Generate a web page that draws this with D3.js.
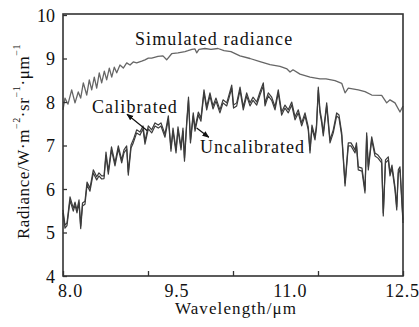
<!DOCTYPE html>
<html><head><meta charset="utf-8">
<script src="https://cdn.jsdelivr.net/npm/d3@7"></script>
<style>
html,body{margin:0;padding:0;background:#fff;}
svg{display:block;}
svg text{font-family:'Liberation Serif','DejaVu Serif',serif !important;}
</style></head>
<body><svg id="c" width="419" height="327"></svg>
<script>
const simWl = [8.000,8.026,8.066,8.115,8.159,8.202,8.234,8.269,8.314,8.348,8.380,8.414,8.446,8.480,8.512,8.547,8.578,8.613,8.645,8.679,8.711,8.754,8.798,8.843,8.887,8.930,8.975,9.042,9.085,9.129,9.174,9.257,9.323,9.372,9.438,9.522,9.615,9.654,9.707,9.747,9.769,9.800,9.879,9.959,10.051,10.131,10.223,10.342,10.475,10.607,10.740,10.872,10.965,11.005,11.044,11.137,11.270,11.402,11.481,11.600,11.689,11.733,11.776,11.908,11.997,12.086,12.218,12.284,12.328,12.394,12.460,12.500];
const simulated = [7.82,8.09,7.95,8.28,7.98,8.23,8.09,8.44,8.16,8.51,8.28,8.57,8.32,8.67,8.44,8.71,8.51,8.78,8.57,8.80,8.67,8.85,8.78,8.90,8.85,8.92,8.90,8.94,8.97,9.01,9.01,9.05,9.06,8.97,9.11,9.13,9.16,9.18,9.21,9.22,9.13,9.21,9.23,9.21,9.23,9.18,9.16,9.06,9.00,8.93,8.86,8.82,8.76,8.69,8.74,8.64,8.57,8.53,8.53,8.49,8.43,8.21,8.32,8.28,8.24,8.16,8.15,7.98,8.05,7.98,7.77,7.91];

const obsWl = [8.000,8.026,8.053,8.093,8.136,8.159,8.185,8.212,8.234,8.258,
8.291,8.318,8.357,8.401,8.446,8.476,8.512,8.543,8.569,8.600,
8.642,8.688,8.732,8.777,8.807,8.843,8.864,8.900,8.930,8.975,
9.019,9.059,9.085,9.129,9.174,9.218,9.261,9.297,9.350,9.394,
9.429,9.456,9.496,9.522,9.562,9.588,9.608,9.637,9.661,9.687,
9.724,9.747,9.791,9.826,9.866,9.902,9.945,9.985,10.025,10.077,
10.118,10.167,10.197,10.233,10.257,10.299,10.343,10.386,10.431,10.475,
10.515,10.564,10.607,10.651,10.674,10.717,10.762,10.806,10.849,10.894,
10.938,10.982,11.027,11.071,11.114,11.159,11.203,11.246,11.269,11.295,
11.335,11.355,11.379,11.401,11.424,11.445,11.490,11.534,11.577,11.622,
11.653,11.689,11.733,11.776,11.812,11.865,11.884,11.908,11.957,11.997,
12.019,12.041,12.086,12.129,12.169,12.218,12.239,12.268,12.305,12.328,
12.354,12.394,12.417,12.438,12.460,12.500];
const calibrated = [5.52,5.17,5.22,5.82,5.56,5.70,5.52,5.75,5.15,5.68,
5.72,6.16,6.02,6.44,6.28,6.37,6.30,6.30,6.85,6.41,
6.97,6.60,6.99,6.67,6.90,6.99,6.39,7.01,7.13,7.36,
7.31,7.45,7.10,7.45,7.36,7.52,7.47,7.52,7.26,7.68,
6.94,7.40,6.90,7.43,6.97,7.40,6.71,7.54,8.11,7.13,
7.75,7.40,7.77,7.63,8.28,7.89,8.21,7.91,8.09,7.82,
8.05,7.98,8.16,8.39,7.93,7.98,8.34,7.89,8.21,7.98,
8.11,8.00,8.23,8.44,7.98,8.21,8.11,7.89,8.28,7.77,
7.93,7.82,8.00,7.66,7.82,7.52,7.75,7.43,6.90,7.47,
7.20,7.47,8.34,7.82,7.59,7.29,7.98,7.13,7.36,7.75,
7.70,7.29,6.14,7.06,7.06,6.90,7.06,6.51,6.48,5.98,
7.29,6.51,7.20,6.83,6.78,6.67,5.45,6.67,6.74,6.37,
6.55,6.05,5.59,6.44,6.51,5.29];
const uncalibrated = [5.45,5.10,5.16,5.74,5.49,5.63,5.45,5.68,5.09,5.61,
5.65,6.09,5.95,6.37,6.21,6.30,6.23,6.24,6.77,6.34,
6.90,6.53,6.92,6.60,6.83,6.92,6.32,6.94,7.06,7.29,
7.24,7.38,7.03,7.38,7.29,7.45,7.40,7.45,7.19,7.61,
6.87,7.33,6.83,7.36,6.90,7.33,6.64,7.47,8.04,7.06,
7.68,7.33,7.70,7.56,8.21,7.82,8.14,7.84,8.02,7.75,
7.98,7.91,8.09,8.32,7.86,7.91,8.27,7.82,8.14,7.91,
8.04,7.93,8.16,8.37,7.91,8.14,8.04,7.82,8.21,7.70,
7.86,7.75,7.93,7.59,7.75,7.45,7.68,7.36,6.83,7.40,
7.13,7.40,8.27,7.75,7.52,7.22,7.91,7.06,7.29,7.68,
7.63,7.22,6.07,6.99,6.99,6.83,6.99,6.44,6.41,5.91,
7.22,6.44,7.13,6.76,6.71,6.60,5.38,6.60,6.67,6.30,
6.48,5.98,5.52,6.37,6.44,5.22];

const xTickMarks = [8, 9.125, 10.25, 11.375, 12.5];
const xTickLabels = [8.0, 9.5, 11.0, 12.5];
const yTicks = [4, 5, 6, 7, 8, 9, 10];

const FONT = "'Liberation Serif','DejaVu Serif',serif";
const svg = d3.select("#c");
const L = 63, R = 403, T = 15, B = 276;
const x = d3.scaleLinear().domain([8, 12.5]).range([L, R]);
const y = d3.scaleLinear().domain([4, 10]).range([B, T]);
const ink = "#333";

svg.append("defs").append("marker").attr("id","ah").attr("viewBox","0 0 10 10")
  .attr("refX",9).attr("refY",5).attr("markerWidth",7).attr("markerHeight",7)
  .attr("orient","auto").attr("markerUnits","userSpaceOnUse")
  .append("path").attr("d","M0,1 L10,5 L0,9 Z").attr("fill","#111");

const line = (wl) => d3.line().x((d,i)=>x(wl[i])).y(d=>y(d));

svg.append("path").datum(simulated).attr("d", line(simWl))
  .attr("fill","none").attr("stroke","#666").attr("stroke-width",1.3).attr("stroke-linejoin","round");
svg.append("path").datum(uncalibrated).attr("d", line(obsWl))
  .attr("fill","none").attr("stroke","#3c3c3c").attr("stroke-width",1.2).attr("stroke-linejoin","round");
svg.append("path").datum(calibrated).attr("d", line(obsWl))
  .attr("fill","none").attr("stroke","#3c3c3c").attr("stroke-width",1.2).attr("stroke-linejoin","round");

// frame
svg.append("rect").attr("x",L).attr("y",T-1).attr("width",R-L).attr("height",B-T+1)
  .attr("fill","none").attr("stroke",ink).attr("stroke-width",1.6);

// axes
const xAxis = d3.axisBottom(x).tickValues(xTickMarks).tickSize(-5).tickFormat("");
const gx = svg.append("g").attr("transform",`translate(0,${B})`).call(xAxis);
gx.select(".domain").remove();
gx.selectAll("line").attr("stroke",ink).attr("stroke-width",1.3);

const xLab = d3.axisBottom(x).tickValues(xTickLabels).tickSize(0).tickPadding(0).tickFormat(d3.format(".1f"));
const gxl = svg.append("g").attr("transform",`translate(0,${B})`).call(xLab)
  .attr("font-family",FONT);
gxl.select(".domain").remove();
gxl.selectAll("text").attr("font-family",FONT).attr("font-size",18)
  .attr("fill","#111").attr("dy",null).attr("y",21).attr("letter-spacing",0.8)
  .attr("dx",(d)=> d===8 ? 7 : (d===12.5 ? -1 : 0));

const yAxis = d3.axisLeft(y).tickValues(yTicks).tickSize(-4).tickPadding(7).tickFormat(d3.format("d"));
const gy = svg.append("g").attr("transform",`translate(${L},0)`).call(yAxis)
  .attr("font-family",FONT);
gy.select(".domain").remove();
gy.selectAll("line").attr("stroke",ink).attr("stroke-width",1.3);
gy.selectAll("text").attr("font-family",FONT).attr("font-size",18).attr("fill","#111")
  .attr("x",-8).attr("dy","0.34em");

// axis titles
svg.append("text").attr("x", (L+R)/2 + 3).attr("y", 314).attr("text-anchor","middle")
  .attr("font-family",FONT).attr("font-size",17).attr("letter-spacing",1.1).attr("fill","#111").text("Wavelength/μm");

const yt = svg.append("text").attr("transform",`translate(29,${(T+B)/2 - 4}) rotate(-90)`)
  .attr("font-family",FONT).attr("text-anchor","middle").attr("font-size",17).attr("letter-spacing",0.6).attr("fill","#111");
const parts = [["Radiance/W·m",0],["−2",1],["·sr",0],["−1",1],["·μm",0],["−1",1]];
parts.forEach(([t,sup])=>{
  yt.append("tspan").attr("font-size", sup?10:17).attr("baseline-shift", sup? "9":"0").text(t);
});

// annotations
svg.append("text").attr("x",x(8.953)).attr("y",y(9.31)).attr("font-family",FONT).attr("font-size",18).attr("letter-spacing",1.1)
  .attr("fill","#111").text("Simulated radiance");
svg.append("text").attr("x",x(8.384)).attr("y",y(7.75)).attr("font-family",FONT).attr("font-size",18).attr("letter-spacing",1.1)
  .attr("fill","#111").text("Calibrated");
svg.append("text").attr("x",x(9.813)).attr("y",y(6.83)).attr("font-family",FONT).attr("font-size",18).attr("letter-spacing",1.0)
  .attr("fill","#111").text("Uncalibrated");

svg.append("line").attr("x1",x(9.116)).attr("y1",y(7.34)).attr("x2",x(8.847)).attr("y2",y(7.72))
  .attr("stroke","#111").attr("stroke-width",1.2).attr("marker-end","url(#ah)");
svg.append("line").attr("x1",x(9.769)).attr("y1",y(7.40)).attr("x2",x(9.93)).attr("y2",y(7.19))
  .attr("stroke","#111").attr("stroke-width",1.2).attr("marker-end","url(#ah)");
</script></body></html>
